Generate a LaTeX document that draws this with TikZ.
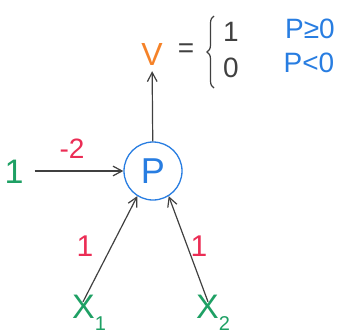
\documentclass[tikz,border=0pt]{standalone}
\usepackage{fontspec}
\setmainfont{Liberation Sans}
\usepackage{xcolor}
\usetikzlibrary{arrows.meta,positioning,decorations.pathreplacing}
\definecolor{pengreen}{RGB}{30,160,100}
\definecolor{penred}{RGB}{235,45,85}
\definecolor{penblue}{RGB}{40,125,225}
\definecolor{penorange}{RGB}{245,130,40}
\newcommand{\lowsub}[1]{\raisebox{-0.7ex}{\fontsize{20}{20}\selectfont #1}}
\tikzset{
  neuron/.style={circle,draw=penblue,line width=1.3pt,minimum size=58pt,inner sep=0pt,text=penblue,font=\fontsize{36}{38}\selectfont},
  wire/.style={line width=1.2pt,black!75,-{Straight Barb[length=3.2mm,width=3.4mm]}},
  inlab/.style={text=pengreen,inner sep=1pt,font=\fontsize{34}{36}\selectfont},
  wlab/.style={text=penred,inner sep=1pt,font=\fontsize{30}{32}\selectfont},
  outlab/.style={text=penorange,inner sep=1pt,font=\fontsize{32}{34}\selectfont},
  vallab/.style={text=black!75,inner sep=1pt,font=\fontsize{28}{30}\selectfont},
  condlab/.style={text=penblue,inner sep=1pt,font=\fontsize{28}{30}\selectfont},
  brace/.style={line width=1.2pt,black!75,decorate,decoration={brace,amplitude=7pt}}
}
\begin{document}
\begin{tikzpicture}[x=1pt,y=-1pt]
  \useasboundingbox (0,0) rectangle (348,335);

  % neuron and output
  \node[neuron] (P) at (153,171) {P};
  \node[outlab] (V) at (152,54) {V};
  \draw[wire,shorten >=5pt] (P) -- (V);
  \node[vallab] (eq) at (186,51) {=};
  \coordinate (bt) at (214,16);
  \coordinate (bb) at (214,88);
  \draw[brace] (bb) -- (bt);
  \node[vallab] (one) at (231,32) {1};
  \node[vallab] (zero) at (231,68) {0};
  \node[condlab] (ge) at (310,29) {P≥0};
  \node[condlab] (lt) at (309,63) {P<0};

  % bias input
  \node[inlab] (b) at (14,172) {1};
  \draw[wire,shorten <=10pt] (b.east |- P) -- (P);
  \node[wlab,font=\fontsize{28}{30}\selectfont] (wb) at (72,149) {-2};

  % inputs
  \node[inlab] (x1) at (89,313) {X\lowsub{1}};
  \node[inlab] (x2) at (213,313) {X\lowsub{2}};
  \draw[wire] ([xshift=-6pt,yshift=-8pt]x1.north) -- (P.-122);
  \draw[wire] ([xshift=-5pt,yshift=-8pt]x2.north) -- (P.-58);
  \node[wlab] (w1) at (85,246) {1};
  \node[wlab] (w2) at (199,246) {1};
\end{tikzpicture}
\end{document}
